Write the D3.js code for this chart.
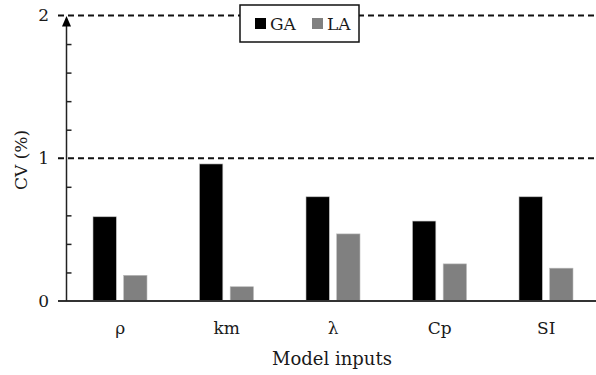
<!DOCTYPE html>
<html>
<head>
<meta charset="utf-8">
<script src="https://cdn.jsdelivr.net/npm/d3@7"></script>
<style>
  body { margin: 0; background: #fff; }
  text { font-family: "DejaVu Serif", "Liberation Serif", serif; fill: #1a1a1a; }
</style>
</head>
<body>
<script>
var categories = ["ρ", "km", "λ", "Cp", "SI"];
var gaValues = [0.59, 0.96, 0.73, 0.56, 0.73];
var laValues = [0.18, 0.10, 0.47, 0.26, 0.23];
var seriesNames = ["GA", "LA"];
var seriesColors = ["#000000", "#808080"];
var yMajor = [0, 1, 2];
var yMinor = [0.2, 0.4, 0.6, 0.8, 1.2, 1.4, 1.6, 1.8];

var w = 596;
var h = 375;

var svg = d3.select("body")
    .append("svg")
    .attr("width", w)
    .attr("height", h);

// scales
var y = d3.scaleLinear().domain([0, 2]).range([301, 15.5]);
var x0 = d3.scaleBand().domain(categories).range([67, 599.5]);
var x1 = d3.scaleBand().domain(seriesNames).range([26, 80]).paddingInner(0.24);
var color = d3.scaleOrdinal().domain(seriesNames).range(seriesColors);

var rows = categories.map(function(c, i) {
    return { cat: c, GA: gaValues[i], LA: laValues[i] };
});

// dashed reference lines at 1 and 2
svg.selectAll("line.grid")
    .data([1, 2])
    .enter()
    .append("line")
    .attr("class", "grid")
    .attr("x1", 58)
    .attr("x2", w)
    .attr("y1", function(d) { return y(d); })
    .attr("y2", function(d) { return y(d); })
    .attr("stroke", "#111")
    .attr("stroke-width", 2)
    .attr("stroke-dasharray", "6,4");

// bars
var groups = svg.selectAll("g.grp")
    .data(rows)
    .enter()
    .append("g")
    .attr("class", "grp")
    .attr("transform", function(d) { return "translate(" + x0(d.cat) + ",0)"; });

groups.selectAll("rect")
    .data(function(d) {
        return seriesNames.map(function(s) { return { key: s, value: d[s] }; });
    })
    .enter()
    .append("rect")
    .attr("x", function(d) { return x1(d.key); })
    .attr("y", function(d) { return y(d.value); })
    .attr("width", x1.bandwidth())
    .attr("height", function(d) { return y(0) - y(d.value); })
    .attr("fill", function(d) { return color(d.key); })
    .attr("stroke", "#bbb")
    .attr("stroke-width", 0.6);

// x axis line
svg.append("line")
    .attr("x1", 58).attr("x2", w)
    .attr("y1", y(0)).attr("y2", y(0))
    .attr("stroke", "#333")
    .attr("stroke-width", 2);

// y axis line with arrow
svg.append("line")
    .attr("x1", 66.5).attr("x2", 66.5)
    .attr("y1", y(0)).attr("y2", y(2) + 8)
    .attr("stroke", "#222")
    .attr("stroke-width", 1.5);
svg.append("path")
    .attr("d", "M66.5," + (y(2) + 0.5) + " L62," + (y(2) + 11) + " L71," + (y(2) + 11) + " Z")
    .attr("fill", "#000");

// minor ticks (inward)
var minorAxis = svg.append("g")
    .attr("transform", "translate(66.5,0)")
    .call(d3.axisRight(y).tickValues(yMinor).tickSize(5).tickFormat(""));
minorAxis.select(".domain").remove();
minorAxis.selectAll("line").attr("stroke", "#222").attr("stroke-width", 1.5);

// y tick labels
var yAxis = svg.append("g")
    .attr("transform", "translate(49,0)")
    .call(d3.axisLeft(y).tickValues(yMajor).tickSize(0).tickPadding(0).tickFormat(d3.format("d")));
yAxis.select(".domain").remove();
yAxis.selectAll("text")
    .attr("font-size", 17)
    .attr("font-family", "DejaVu Serif");

// category labels
var xAxis = svg.append("g")
    .attr("transform", "translate(0," + y(0) + ")")
    .call(d3.axisBottom(x0).tickSize(0).tickPadding(21));
xAxis.select(".domain").remove();
xAxis.selectAll("text")
    .attr("font-size", 17)
    .attr("font-family", "DejaVu Serif");

// axis titles
svg.append("text")
    .attr("x", 332)
    .attr("y", 365)
    .attr("text-anchor", "middle")
    .attr("font-size", 18)
    .text("Model inputs");

svg.append("text")
    .attr("transform", "translate(27,160) rotate(-90)")
    .attr("text-anchor", "middle")
    .attr("font-size", 17)
    .text("CV (%)");

// legend
var legend = svg.append("g");
legend.append("rect")
    .attr("x", 240).attr("y", 5)
    .attr("width", 119).attr("height", 37)
    .attr("fill", "#fff")
    .attr("stroke", "#111")
    .attr("stroke-width", 1.5);

var legX = [255, 312];
seriesNames.forEach(function(s, i) {
    legend.append("rect")
        .attr("x", legX[i]).attr("y", 18)
        .attr("width", 11).attr("height", 11)
        .attr("fill", color(s));
    legend.append("text")
        .attr("x", legX[i] + 15).attr("y", 30)
        .attr("font-size", 17)
        .text(s);
});
</script>
</body>
</html>
